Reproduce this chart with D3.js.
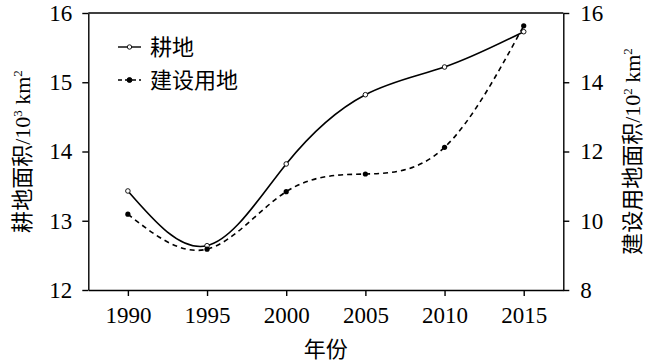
<!DOCTYPE html>
<html>
<head>
<meta charset="utf-8">
<script src="https://cdn.jsdelivr.net/npm/d3@7"></script>
<style>
    body { margin: 0; background: #fff; }
</style>
</head>
<body>
<div id="chart"></div>
<script>
const years = [1990, 1995, 2000, 2005, 2010, 2015];
const farmland = [13.43, 12.64, 13.82, 14.82, 15.22, 15.73];     // 10^3 km2, left axis
const builtLand = [10.19, 9.18, 10.84, 11.35, 12.12, 15.63];     // 10^2 km2, right axis
const xTicks = [1990, 1995, 2000, 2005, 2010, 2015];
const leftTicks = [12, 13, 14, 15, 16];
const rightTicks = [8, 10, 12, 14, 16];
const seriesNames = ['耕地', '建设用地'];

const FONT = '"Times New Roman", "Liberation Serif", "Noto Sans CJK SC", serif';

function drawChart() {
    const width = 650;
    const height = 363;
    const left = 88.3, right = 563.3, top = 13, bottom = 290;

    const svg = d3.select('#chart')
        .append('svg')
        .attr('width', width)
        .attr('height', height)
        .attr('font-family', FONT);

    const x = d3.scaleLinear().domain([1987.5, 2017.5]).range([left, right]);
    const yLeft = d3.scaleLinear().domain([12, 16]).range([bottom, top]);
    const yRight = d3.scaleLinear().domain([8, 16]).range([bottom, top]);

    // axes
    const xAxis = svg.append('g')
        .attr('transform', 'translate(0,' + bottom + ')')
        .call(d3.axisBottom(x).tickValues(xTicks).tickFormat(d3.format('d'))
            .tickSize(6).tickSizeOuter(0).tickPadding(11));
    const lAxis = svg.append('g')
        .attr('transform', 'translate(' + left + ',0)')
        .call(d3.axisLeft(yLeft).tickValues(leftTicks).tickFormat(d3.format('d'))
            .tickSize(6).tickSizeOuter(0).tickPadding(10));
    const rAxis = svg.append('g')
        .attr('transform', 'translate(' + right + ',0)')
        .call(d3.axisRight(yRight).tickValues(rightTicks).tickFormat(d3.format('d'))
            .tickSize(6).tickSizeOuter(0).tickPadding(11));

    [xAxis, lAxis, rAxis].forEach(function (g) {
        g.attr('font-family', FONT).attr('font-size', 23);
        g.selectAll('path, line').attr('stroke', '#000').attr('stroke-width', 1.4);
        g.selectAll('text').attr('fill', '#000');
    });

    // top frame line
    svg.append('line')
        .attr('x1', left).attr('x2', right)
        .attr('y1', top).attr('y2', top)
        .attr('stroke', '#000').attr('stroke-width', 1.4);

    // lines
    const farmPts = years.map((yr, i) => [x(yr), yLeft(farmland[i])]);
    const builtPts = years.map((yr, i) => [x(yr), yRight(builtLand[i])]);
    const line = d3.line().curve(d3.curveNatural);

    svg.append('path')
        .attr('d', line(farmPts))
        .attr('fill', 'none')
        .attr('stroke', '#000')
        .attr('stroke-width', 1.6);
    svg.append('path')
        .attr('d', line(builtPts))
        .attr('fill', 'none')
        .attr('stroke', '#000')
        .attr('stroke-width', 1.6)
        .attr('stroke-dasharray', '5,4');

    svg.append('g').selectAll('circle')
        .data(farmPts)
        .enter()
        .append('circle')
        .attr('cx', d => d[0])
        .attr('cy', d => d[1])
        .attr('r', 2.3)
        .attr('fill', '#fff')
        .attr('stroke', '#000')
        .attr('stroke-width', 0.9);
    svg.append('g').selectAll('circle')
        .data(builtPts)
        .enter()
        .append('circle')
        .attr('cx', d => d[0])
        .attr('cy', d => d[1])
        .attr('r', 2.6)
        .attr('fill', '#000');

    // legend
    const legend = svg.append('g');
    [47, 80].forEach(function (ly, i) {
        legend.append('line')
            .attr('x1', 118).attr('x2', 141)
            .attr('y1', ly).attr('y2', ly)
            .attr('stroke', '#000')
            .attr('stroke-width', 1.4)
            .attr('stroke-dasharray', i === 0 ? null : '4,3');
        legend.append('circle')
            .attr('cx', 129.5).attr('cy', ly)
            .attr('r', i === 0 ? 2.2 : 2.5)
            .attr('fill', i === 0 ? '#fff' : '#000')
            .attr('stroke', '#000')
            .attr('stroke-width', 0.9);
        legend.append('text')
            .attr('x', 150).attr('y', ly)
            .attr('dy', '0.35em')
            .attr('font-size', 22)
            .text(seriesNames[i]);
    });

    // axis titles
    svg.append('text')
        .attr('x', (left + right) / 2)
        .attr('y', 349)
        .attr('dy', '0.35em')
        .attr('text-anchor', 'middle')
        .attr('font-size', 22)
        .text('年份');

    const lTitle = svg.append('text')
        .attr('transform', 'translate(22,' + ((top + bottom) / 2) + ') rotate(-90)')
        .attr('text-anchor', 'middle')
        .attr('dy', '0.35em')
        .attr('font-size', 22);
    lTitle.append('tspan').text('耕地面积/10');
    lTitle.append('tspan').attr('dy', -8).attr('font-size', 13).text('3');
    lTitle.append('tspan').attr('dy', 8).text(' km');
    lTitle.append('tspan').attr('dy', -8).attr('font-size', 13).text('2');

    const rTitle = svg.append('text')
        .attr('transform', 'translate(632,' + ((top + bottom) / 2) + ') rotate(-90)')
        .attr('text-anchor', 'middle')
        .attr('dy', '0.35em')
        .attr('font-size', 22);
    rTitle.append('tspan').text('建设用地面积/10');
    rTitle.append('tspan').attr('dy', -8).attr('font-size', 13).text('2');
    rTitle.append('tspan').attr('dy', 8).text(' km');
    rTitle.append('tspan').attr('dy', -8).attr('font-size', 13).text('2');
}

drawChart();
</script>
</body>
</html>
